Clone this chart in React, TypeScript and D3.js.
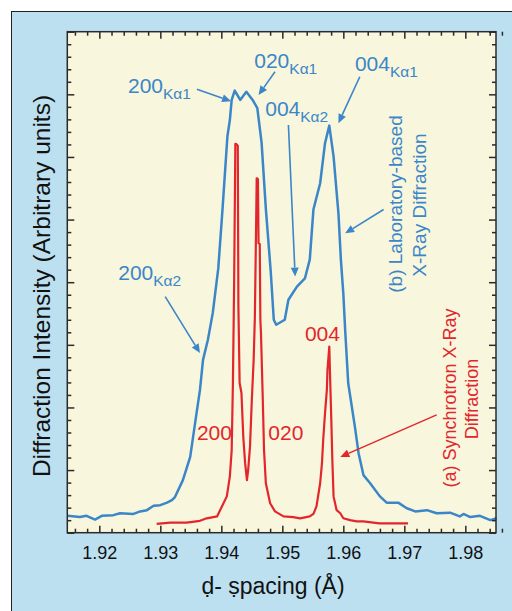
import * as d3 from "d3";
import React, { useEffect, useRef } from "react";

const W = 512;
const H = 611;

// (b) laboratory-based XRD, d-spacing (Å)
const labD = [
  1.9148, 1.9168, 1.9179, 1.9193, 1.9204, 1.9223, 1.9234, 1.9256, 1.9267, 1.9278,
  1.9289, 1.93, 1.9311, 1.9319, 1.9324, 1.9337, 1.9349, 1.9357, 1.9365, 1.937,
  1.9378, 1.9386, 1.9395, 1.9402, 1.941, 1.9414, 1.9417, 1.9422, 1.9431, 1.9441,
  1.9452, 1.9459, 1.9466, 1.9473, 1.9481, 1.9486, 1.949, 1.9504, 1.951, 1.9524,
  1.9537, 1.9545, 1.9551, 1.9562, 1.957, 1.9577, 1.9584, 1.9592, 1.9596, 1.96,
  1.9603, 1.9608, 1.9619, 1.9625, 1.9633, 1.9644, 1.966, 1.9671, 1.969, 1.9704,
  1.9718, 1.9737, 1.9753, 1.9775, 1.9791, 1.9797, 1.9808, 1.9824, 1.9841, 1.9851,
];
const labI = [
  0.27, 0.25, 0.27, 0.21, 0.27, 0.28, 0.31, 0.3, 0.34, 0.36,
  0.43, 0.44, 0.48, 0.52, 0.57, 0.84, 1.21, 1.75, 2.28, 2.76,
  3.08, 3.51, 4.22, 5.17, 6.33, 6.59, 6.91, 7.06, 6.91, 7.04,
  6.9, 6.78, 6.23, 5.17, 4.17, 3.4, 3.32, 3.4, 3.72, 3.93,
  4.06, 4.36, 5.16, 5.58, 6.22, 6.5, 6.01, 5.1, 4.36, 3.82,
  3.24, 2.39, 1.69, 1.27, 0.92, 0.79, 0.58, 0.48, 0.48, 0.39,
  0.34, 0.36, 0.31, 0.32, 0.26, 0.3, 0.25, 0.27, 0.2, 0.23,
];

// (a) synchrotron XRD
const synD = [
  1.9294, 1.9316, 1.9343, 1.9365, 1.9376, 1.9393, 1.9401, 1.9409, 1.9414, 1.9417,
  1.9419, 1.942, 1.9421, 1.9423, 1.9424, 1.9427, 1.9428, 1.943, 1.9433, 1.9436,
  1.9439, 1.9442, 1.9444, 1.9447, 1.945, 1.9453, 1.9455, 1.9457, 1.9458, 1.946,
  1.9461, 1.9463, 1.9464, 1.9465, 1.9468, 1.947, 1.9473, 1.948, 1.9488, 1.9502,
  1.9518, 1.9529, 1.9545, 1.9551, 1.9556, 1.9562, 1.9565, 1.9567, 1.957, 1.9573,
  1.9574, 1.9577, 1.9578, 1.958, 1.9582, 1.9584, 1.9589, 1.9595, 1.96, 1.9611,
  1.9622, 1.9633, 1.9659, 1.9681, 1.9706,
];
const synI = [
  0.14, 0.16, 0.16, 0.19, 0.23, 0.26, 0.42, 0.58, 0.9, 1.32,
  2.39, 3.19, 3.99, 6.21, 6.21, 6.18, 3.61, 2.39, 2.23, 1.53,
  1.11, 0.84, 1.0, 1.37, 2.12, 2.76, 3.45, 4.89, 5.66, 5.65,
  4.62, 4.61, 3.4, 3.19, 2.12, 1.32, 0.79, 0.47, 0.34, 0.26,
  0.25, 0.23, 0.26, 0.3, 0.42, 0.79, 1.11, 1.48, 1.91, 2.28,
  2.6, 2.97, 2.6, 1.91, 1.16, 0.58, 0.36, 0.31, 0.23, 0.2,
  0.18, 0.18, 0.15, 0.15, 0.15,
];

const xTicks = [1.92, 1.93, 1.94, 1.95, 1.96, 1.97, 1.98];
const xTickLabels = ["1.92", "1.93", "1.94", "1.95", "1.96", "1.97", "1.98"];
const yTicks = [0, 1, 2, 3, 4, 5, 6, 7, 8];

// peak labels: [main, subscript, d, intensity]
const labPeaks: [string, string, number, number][] = [
  ["200", "Kα1", 1.9247, 7.02],
  ["020", "Kα1", 1.9454, 7.42],
  ["004", "Kα1", 1.9619, 7.38],
  ["004", "Kα2", 1.9472, 6.65],
  ["200", "Kα2", 1.9231, 4.04],
];
const synPeaks: [string, number, number][] = [
  ["200", 1.936, 1.48],
  ["020", 1.9477, 1.48],
  ["004", 1.9537, 3.06],
];
// arrows: [d0, i0, d1, i1]
const labArrows = [
  [1.936, 7.08, 1.9416, 6.89],
  [1.9488, 7.36, 1.9461, 6.99],
  [1.9627, 7.28, 1.9592, 6.54],
  [1.951, 6.51, 1.9521, 4.09],
  [1.9308, 3.77, 1.9365, 2.87],
  [1.9666, 5.16, 1.9603, 4.78],
];
const synArrows = [[1.9753, 1.88, 1.9595, 1.21]];

const BLUE = "#3b86c8";
const RED = "#e2262c";
const FONT = "'Liberation Sans', Arial, Helvetica, sans-serif";

function App() {
  const ref = useRef<SVGSVGElement>(null);

  useEffect(() => {
    const svg = d3.select(ref.current);
    svg.selectAll("*").remove();

    const left = 67.3, top = 31.7, right = 496, bottom = 532.7;

    svg.append("rect")
      .attr("x", 11.5).attr("y", 11.5)
      .attr("width", 520).attr("height", 620)
      .attr("fill", "#bde0f1")
      .attr("stroke", "#222").attr("stroke-width", 1);

    svg.append("rect")
      .attr("x", left).attr("y", top)
      .attr("width", right - left).attr("height", bottom - top)
      .attr("fill", "#f8f6dc");

    const x = d3.scaleLinear().domain([1.91475, 1.98503]).range([left, right]);
    const y = d3.scaleLinear().domain([0, 8]).range([bottom, top]);

    const line = d3.line<[number, number]>()
      .x((d) => x(d[0]))
      .y((d) => y(d[1]));

    const lab = labD.map((d, i) => [d, labI[i]] as [number, number]);
    const syn = synD.map((d, i) => [d, synI[i]] as [number, number]);

    svg.append("path")
      .attr("d", line(lab))
      .attr("fill", "none")
      .attr("stroke", BLUE)
      .attr("stroke-width", 2.5)
      .attr("stroke-linejoin", "round");

    svg.append("path")
      .attr("d", line(syn))
      .attr("fill", "none")
      .attr("stroke", RED)
      .attr("stroke-width", 2.2)
      .attr("stroke-linejoin", "round");

    // axes, ticks pointing inward
    const xMinor = d3.range(0, 36).map((i) => 1.916 + i * 0.002)
      .filter((v) => Math.abs(Math.round(v * 100) - v * 100) > 0.01);
    const yMinor = d3.range(0, 41).map((i) => i * 0.2)
      .filter((v) => Math.abs(Math.round(v) - v) > 0.01);

    const axes = svg.append("g");
    const addAxis = (ax: any, tx: string) => {
      const g = axes.append("g").attr("transform", tx).call(ax);
      g.select(".domain").remove();
      g.selectAll("line").attr("stroke", "#2a2a2a").attr("stroke-width", 1.5);
      return g;
    };

    const bx = addAxis(
      d3.axisBottom(x).tickValues(xTicks).tickSize(-7).tickPadding(14)
        .tickFormat((_, i) => xTickLabels[i]),
      `translate(0,${bottom})`
    );
    bx.selectAll("text")
      .attr("font-family", FONT).attr("font-size", 18).attr("fill", "#111");
    addAxis(d3.axisBottom(x).tickValues(xMinor).tickSize(-4).tickFormat(() => ""), `translate(0,${bottom})`);
    addAxis(d3.axisTop(x).tickValues(xTicks).tickSize(-7).tickFormat(() => ""), `translate(0,${top})`);
    addAxis(d3.axisTop(x).tickValues(xMinor).tickSize(-4).tickFormat(() => ""), `translate(0,${top})`);
    addAxis(d3.axisLeft(y).tickValues(yTicks).tickSize(-7).tickFormat(() => ""), `translate(${left},0)`);
    addAxis(d3.axisLeft(y).tickValues(yMinor).tickSize(-4).tickFormat(() => ""), `translate(${left},0)`);
    addAxis(d3.axisRight(y).tickValues(yTicks).tickSize(-7).tickFormat(() => ""), `translate(${right},0)`);
    addAxis(d3.axisRight(y).tickValues(yMinor).tickSize(-4).tickFormat(() => ""), `translate(${right},0)`);

    svg.append("rect")
      .attr("x", left).attr("y", top)
      .attr("width", right - left).attr("height", bottom - top)
      .attr("fill", "none")
      .attr("stroke", "#2a2a2a").attr("stroke-width", 1.5);

    // axis titles
    svg.append("text")
      .attr("transform", "translate(50,286) rotate(-90)")
      .attr("text-anchor", "middle")
      .attr("font-family", FONT).attr("font-size", 24.5).attr("fill", "#111")
      .text("Diffraction Intensity (Arbitrary units)");

    svg.append("text")
      .attr("x", 273).attr("y", 594)
      .attr("text-anchor", "middle")
      .attr("font-family", FONT).attr("font-size", 23).attr("fill", "#111")
      .text("ḍ- ṣpacing (Å)");

    // arrows
    const arrow = (a: number[], color: string, w: number) => {
      const x0 = x(a[0]), y0 = y(a[1]), x1 = x(a[2]), y1 = y(a[3]);
      const ang = Math.atan2(y1 - y0, x1 - x0);
      const len = 9, half = 4;
      const bx0 = x1 - len * Math.cos(ang), by0 = y1 - len * Math.sin(ang);
      svg.append("line")
        .attr("x1", x0).attr("y1", y0).attr("x2", bx0).attr("y2", by0)
        .attr("stroke", color).attr("stroke-width", w);
      const p = [
        [x1, y1],
        [bx0 + half * Math.sin(ang), by0 - half * Math.cos(ang)],
        [bx0 - half * Math.sin(ang), by0 + half * Math.cos(ang)],
      ];
      svg.append("path")
        .attr("d", "M" + p.map((q) => q.join(",")).join("L") + "Z")
        .attr("fill", color);
    };
    labArrows.forEach((a) => arrow(a, BLUE, 1.6));
    synArrows.forEach((a) => arrow(a, RED, 1.4));

    // peak labels
    labPeaks.forEach(([m, s, d, v]) => {
      const t = svg.append("text")
        .attr("x", x(d)).attr("y", y(v))
        .attr("font-family", FONT).attr("font-size", 21).attr("fill", BLUE);
      t.append("tspan").text(m);
      t.append("tspan").attr("dy", 6).attr("font-size", 15.5).text(s);
    });
    synPeaks.forEach(([m, d, v]) => {
      svg.append("text")
        .attr("x", x(d)).attr("y", y(v))
        .attr("font-family", FONT).attr("font-size", 21).attr("fill", RED)
        .text(m);
    });

    // rotated series notes
    const note = (tx: string, txt: string, color: string, size: number) =>
      svg.append("text")
        .attr("transform", tx)
        .attr("text-anchor", "middle")
        .attr("font-family", FONT).attr("font-size", size).attr("fill", color)
        .text(txt);
    note("translate(402,204) rotate(-90)", "(b) Laboratory-based", BLUE, 19);
    note("translate(426,205) rotate(-90)", "X-Ray Diffraction", BLUE, 19);
    note("translate(456,398) rotate(-90)", "(a) Synchrotron X-Ray", RED, 18);
    note("translate(478,399) rotate(-90)", "Diffraction", RED, 18);
  }, []);

  return (
    <svg
      ref={ref}
      width={W}
      height={H}
      style={{ position: "absolute", left: 0, top: 0, display: "block", background: "#fff" }}
    />
  );
}

export default App;
